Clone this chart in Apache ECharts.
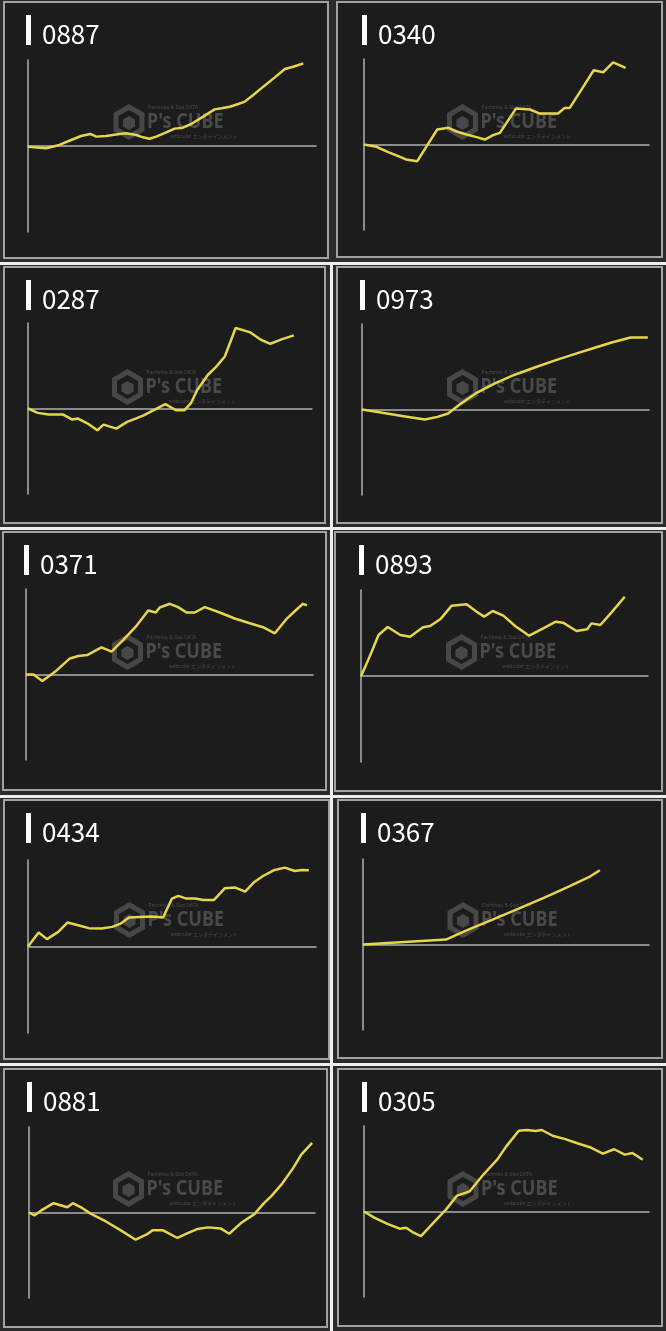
<!DOCTYPE html>
<html>
<head>
<meta charset="utf-8">
<script src="https://cdn.jsdelivr.net/npm/echarts@6/dist/echarts.min.js"></script>
<style>
html,body{margin:0;padding:0;background:#2b2b2b;}
#c{width:666px;height:1331px;}
</style>
</head>
<body>
<div id="c"></div>
<script>
// Machine numbers (panel titles)
const titles = ['0887','0340','0287','0973','0371','0893','0434','0367','0881','0305'];

// x: position along the period (0-100), y: value relative to axis max (-100..100)
const x_0887 = [0,6.3,10.9,15.0,18.4,21.6,23.7,27.1,31.8,34.1,37.6,39.9,42.2,44.5,48.0,50.9,53.8,56.7,60.8,64.8,67.2,70.1,73.0,75.3,78.2,81.7,85.7,89.2,92.1,95.6];
const y_0887 = [-1,-2.7,1.2,7.0,11.6,14.0,10.9,11.6,14.0,14.7,12.8,10.1,8.5,10.9,15.9,20.2,21.3,25.6,34.1,42.6,43.8,45.7,48.8,51.6,59.3,69.0,79.8,89.5,92.2,96.1];

const x_0340 = [0,4.4,8.5,12.0,14.7,18.7,22.0,25.7,29.6,32.5,36.0,39.5,42.4,45.3,47.7,50.0,53.3,58.2,61.7,65.2,68.1,70.4,72.2,76.3,80.6,83.9,87.4,91.8];
const y_0340 = [0,-2.7,-8.9,-13.6,-17.5,-19.5,-1.9,17.5,19.5,15.2,11.7,8.6,5.8,10.9,13.6,25.3,42.0,40.9,36.2,36.2,36.2,42.8,42.8,64.2,86.8,84.4,96.1,89.5];

const x_0287 = [0,3.4,7.2,12.4,15.6,17.6,21.4,24.4,26.6,31.1,34.9,37.9,40.9,44.6,48.4,52.1,55.1,57.3,59.6,63.3,66.3,69.3,73.1,78.3,82.0,85.3,89.5,93.6];
const y_0287 = [0,-5.1,-7.1,-7.1,-12.9,-11.8,-18.4,-25.5,-18.8,-23.5,-15.7,-11.8,-7.8,-1.2,5.1,-2.0,-2.0,5.9,21.6,39.2,49.0,60.8,94.1,89.0,80.4,75.7,81.2,85.5];

const x_0973 = [0,7.1,14.5,21.9,26.3,30.0,34.5,39.6,46.3,53.0,60.4,67.8,75.1,81.1,87.0,93.6,99.6];
const y_0973 = [0,-3.9,-7.8,-11.8,-8.6,-4.7,7.1,18.8,30.6,40.4,49.4,58.0,65.9,72.2,78.4,84.3,84.3];

const x_0371 = [0,2.6,5.7,10.1,15.3,18.2,21.3,26.3,29.8,33.9,38.5,42.6,45.2,46.6,50.1,53.0,55.9,58.8,62.3,67.5,72.7,78.0,82.6,86.7,90.7,94.2,96.5,97.9];
const y_0371 = [0,0,-7.5,3.1,18.8,21.6,22.7,31.8,26.7,40.4,56.9,74.9,72.5,78.4,82.7,78.8,72.5,72.5,78.8,72.5,65.5,60.0,55.3,48.2,64.7,75.7,82.7,80.8];

const x_0893 = [0,1.5,3.5,6.1,9.3,13.7,17.1,21.6,24.1,27.6,31.6,36.8,40.3,42.9,45.9,49.6,53.7,58.6,63.5,67.9,70.4,75.1,78.8,80.3,83.4,87.3,91.9];
const y_0893 = [0,10.9,26.4,47.7,57.0,47.7,45.7,56.6,58.1,65.9,81.8,83.3,74.8,69.0,75.6,70.2,58.1,46.9,55.4,63.2,62.0,52.3,54.3,61.2,59.3,74.0,92.2];

const x_0434 = [0,3.7,6.6,10.5,13.7,17.4,21.1,25.5,29.2,32.2,35.1,38.8,43.2,46.9,50.0,52.2,55.0,58.0,60.9,64.6,68.3,72.0,75.4,78.6,81.6,85.3,89.2,92.6,95.1,97.5];
const y_0434 = [0,16.2,8.5,16.9,27.7,24.6,21.2,20.8,22.7,26.5,33.5,34.2,34.6,33.5,55.4,58.5,55.4,55.4,53.8,53.8,67.3,68.1,63.5,74.6,81.5,88.1,91.2,87.3,88.5,88.1];

const x_0367 = [0,29.0,36.4,45.3,54.2,63.2,72.1,79.5,82.8];
const y_0367 = [0,5.8,16.7,29.2,41.6,54.5,68.1,79.8,86.8];

const x_0881 = [0,1.9,4.6,8.6,13.4,15.3,18.7,21.7,26.9,32.1,37.3,41.0,43.2,46.9,51.9,55.1,58.8,62.6,67.0,70.0,74.4,78.9,81.9,84.8,88.6,92.3,95.2,99.0];
const y_0881 = [0,-3.5,3.1,10.9,6.2,10.9,5.0,-1.6,-10.5,-20.9,-31.8,-26.0,-20.9,-20.9,-29.8,-24.8,-19.4,-17.4,-18.6,-24.8,-11.6,-1.6,10.1,19.4,34.1,51.6,67.8,81.4];

const x_0305 = [0,3.6,8.0,12.5,14.8,17.0,20.0,24.4,28.9,32.6,37.1,41.6,46.8,49.8,54.3,57.2,60.2,62.4,66.2,70.6,75.1,79.6,83.8,87.8,91.5,94.2,97.8];
const y_0305 = [0,-7.1,-14.2,-20.1,-18.9,-24.0,-28.7,-13.0,2.8,18.5,23.6,42.1,61.0,75.6,94.5,95.3,94.1,95.3,88.6,84.6,79.5,74.8,67.7,72.8,66.5,68.5,60.6];

const xs = [x_0887,x_0340,x_0287,x_0973,x_0371,x_0893,x_0434,x_0367,x_0881,x_0305];
const ys = [y_0887,y_0340,y_0287,y_0973,y_0371,y_0893,y_0434,y_0367,y_0881,y_0305];

// layout (pixels): panel box [x,y,w,h], axis x, axis end x, axis top, axis bottom
const layout = [
 {box:[3,1,326,258],   ax:28,  ex:316, top:60,   bot:232},
 {box:[336,1,327,257], ax:364, ex:649, top:59,   bot:230},
 {box:[3,266,323,258], ax:28,  ex:312, top:323,  bot:494},
 {box:[336,266,327,258],ax:362,ex:649, top:324,  bot:495},
 {box:[2,531,325,260], ax:26,  ex:313, top:589,  bot:760},
 {box:[334,531,329,261],ax:361,ex:648, top:590,  bot:762},
 {box:[3,799,327,261], ax:28,  ex:316, top:860,  bot:1033},
 {box:[337,799,326,260],ax:363,ex:649, top:859,  bot:1030},
 {box:[3,1068,325,260],ax:29,  ex:315, top:1127, bot:1298},
 {box:[337,1068,326,259],ax:364,ex:649,top:1126, bot:1297}
];

const chart = echarts.init(document.getElementById('c'), null, {renderer:'canvas'});
const grid=[], xAxis=[], yAxis=[], series=[], title=[], graphic=[];
const axisColor = '#b0b0b0';

// separators
[[0,262,666,3],[0,527,666,3],[0,795,666,3],[0,1063,666,3],[330,262,3,1069]].forEach(r=>{
  graphic.push({type:'rect', z:-20, shape:{x:r[0],y:r[1],width:r[2],height:r[3]}, style:{fill:'#efefef'}});
});

function hexPts(cx,cy,r){const p=[];for(let k=0;k<6;k++){const a=Math.PI/180*(-90+60*k);p.push([cx+r*Math.cos(a),cy+r*Math.sin(a)]);}return p;}

layout.forEach((L,i)=>{
  const b=L.box;
  graphic.push({type:'rect', z:-10, shape:{x:b[0]+1,y:b[1]+1,width:b[2]-2,height:b[3]-2}, style:{fill:'#1c1c1c', stroke:'#a2a2a2', lineWidth:2}});
  // title bar
  graphic.push({type:'rect', z:5, shape:{x:L.ax-2,y:b[1]+14,width:5,height:30}, style:{fill:'#ffffff'}});
  // watermark
  const cx=b[0]+b[2]/2+6, cy=b[1]+121;
  graphic.push({type:'polygon', z:-5, shape:{points:hexPts(cx-43,cy,15)}, style:{fill:'none', stroke:'#474747', lineWidth:5}});
  graphic.push({type:'polygon', z:-5, shape:{points:hexPts(cx-43,cy+1,7)}, style:{fill:'#474747'}});
  graphic.push({type:'text', z:-5, x:cx-25, y:cy, scaleX:0.82, style:{text:"P's CUBE", fill:'#4a4a4a', font:'bold 22px "Noto Sans"', textVerticalAlign:'middle'}});
  graphic.push({type:'text', z:-5, x:cx-24, y:cy-14, style:{text:'Pachinko & Slot DATA', fill:'#4a4a4a', font:'5px "Noto Sans"', textVerticalAlign:'middle'}});
  graphic.push({type:'text', z:-5, x:cx-2, y:cy+14, style:{text:'webcube エンタテインメント', fill:'#4a4a4a', font:'5px "Noto Sans CJK JP"', textVerticalAlign:'middle'}});

  title.push({text:titles[i], left:L.ax+14, top:b[1]+19, padding:0,
    textStyle:{color:'#ffffff', fontSize:26, fontWeight:'normal', fontFamily:'"Noto Sans CJK JP"', lineHeight:28}});
  grid.push({left:L.ax, top:L.top, width:L.ex-L.ax, height:L.bot-L.top});
  xAxis.push({type:'value', gridIndex:i, min:0, max:100, axisLine:{show:true,onZero:true,lineStyle:{color:axisColor,width:1.5}},
    axisTick:{show:false}, axisLabel:{show:false}, splitLine:{show:false}});
  yAxis.push({type:'value', gridIndex:i, min:-100, max:100, axisLine:{show:true,lineStyle:{color:axisColor,width:1.5}},
    axisTick:{show:false}, axisLabel:{show:false}, splitLine:{show:false}});
  series.push({type:'line', xAxisIndex:i, yAxisIndex:i, showSymbol:false, silent:true, z:10,
    lineStyle:{color:'#e6d64a', width:2.5}, data: xs[i].map((x,k)=>[x, ys[i][k]])});
});

chart.setOption({backgroundColor:'#2b2b2b', animation:false, title, grid, xAxis, yAxis, series, graphic});
</script>
</body>
</html>
